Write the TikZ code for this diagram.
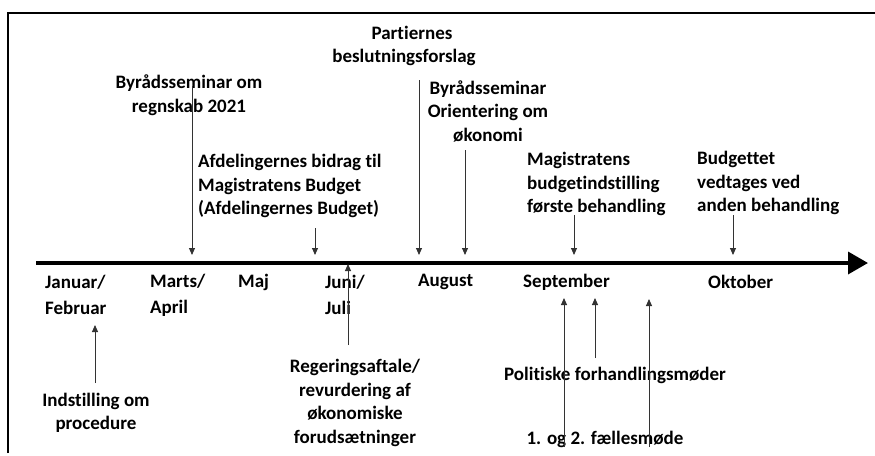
\documentclass[tikz,border=0pt]{standalone}
\usepackage{fontspec}
\setmainfont{Carlito}[Ligatures={NoCommon}]
\usetikzlibrary{arrows.meta}
\begin{document}
\begin{tikzpicture}[x=1pt,y=-1pt,
  lbl/.style={font=\fontsize{19}{23.5}\selectfont\bfseries, inner sep=0pt, align=center},
  lbll/.style={lbl, align=left},
  mon/.style={font=\fontsize{19}{26}\selectfont\bfseries, inner sep=0pt, align=left, anchor=west},
  arr/.style={draw=black!80, line width=0.9pt, -{Triangle[length=7pt,width=6pt]}},
]
\useasboundingbox (0,0) rectangle (875,455);
% frame
\draw[line width=2pt] (8,453) -- (8,13) -- (875,13);
% axis
\coordinate (axL) at (36,263);
\coordinate (axR) at (868,263);
\draw[line width=3.6pt, -{Triangle[length=20pt,width=22pt]}] (axL) -- (axR);

% top labels
\node[lbl] (partier) at (404,46) {\hspace*{16pt}Partiernes\\beslutningsforslag};
\node[lbl] (byr1) at (189,95) {Byrådsseminar om\\regnskab 2021};
\node[lbll, anchor=west] (afd) at (198,186) {Afdelingernes bidrag til\\Magistratens Budget\\(Afdelingernes Budget)};
\node[lbl] (byr2) at (488,111) {Byrådsseminar\\Orientering om\\økonomi};
\node[lbll, anchor=west] (mag) at (527,184) {Magistratens\\budgetindstilling\\første behandling};
\node[lbll, anchor=west] (bud) at (697,183) {Budgettet\\vedtages ved\\anden behandling};

% months
\node[mon] (jan) at (45,295) {Januar/\\Februar};
\node[mon] (mar) at (150,295) {Marts/\\April};
\node[mon] (maj) at (238,282) {Maj};
\node[mon] (jun) at (325,295) {Juni/\\Juli};
\node[mon] (aug) at (418,282) {August};
\node[mon] (sep) at (523,282) {September};
\node[mon] (okt) at (708,282) {Oktober};

% bottom labels
\node[lbl] (ind) at (96,413) {Indstilling om\\procedure};
\node[lbl] (reg) at (355,403) {Regeringsaftale/\\revurdering af\\økonomiske\\forudsætninger};
\node[lbl] (pol) at (615,375) {Politiske forhandlingsmøder};
\node[lbl] (fael) at (605,439) {1. og 2. fællesmøde};

% arrow coordinates
\coordinate (a1) at (192,86);
\coordinate (a2) at (315,228);
\coordinate (a3) at (419,80);
\coordinate (a4) at (465,150);
\coordinate (a5) at (574,215);
\coordinate (a6) at (733,215);
\coordinate (b1) at (95,383);
\coordinate (b2) at (348,345);
\coordinate (b3) at (595,358);
\coordinate (b4) at (564,447);
\coordinate (b5) at (649,447);

\draw[arr] (a1) -- (a1 |- 0,255);
\draw[arr] (a2) -- (a2 |- 0,255);
\draw[arr] (a3) -- (a3 |- 0,255);
\draw[arr] (a4) -- (a4 |- 0,255);
\draw[arr] (a5) -- (a5 |- 0,255);
\draw[arr] (a6) -- (a6 |- 0,255);
\draw[arr] (b1) -- (b1 |- 0,325);
\draw[arr] (b2) -- (b2 |- 0,264);
\draw[arr] (b3) -- (b3 |- 0,298);
\draw[arr] (b4) -- (b4 |- 0,298);
\draw[arr] (b5) -- (b5 |- 0,299);
\end{tikzpicture}
\end{document}
